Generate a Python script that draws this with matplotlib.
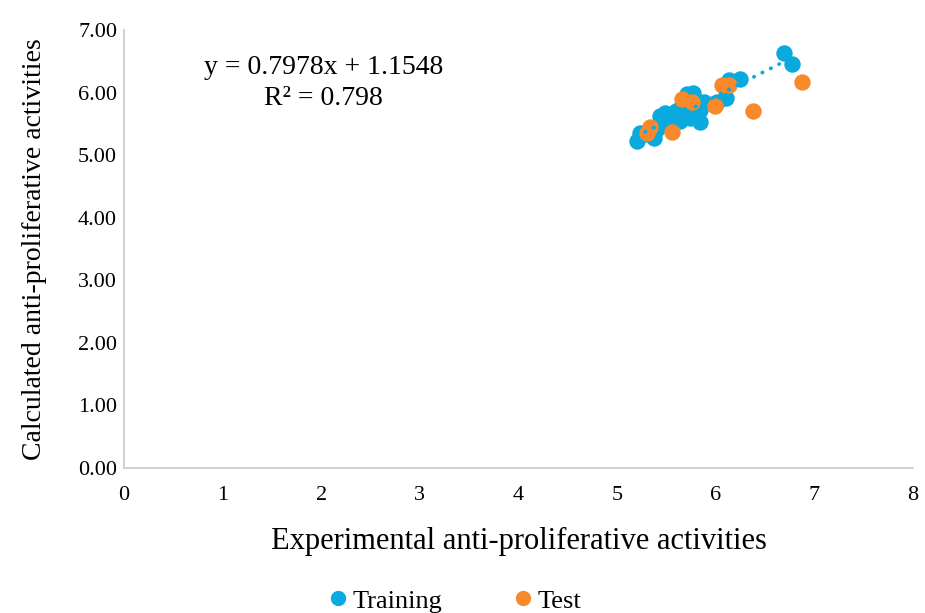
import numpy as np
import matplotlib
matplotlib.use('Agg')
import matplotlib.pyplot as plt
from matplotlib.lines import Line2D

plt.rcParams['font.family'] = ['Liberation Serif', 'DejaVu Serif']

# Training set (experimental, calculated)
train_x = [5.20, 5.23, 5.37, 5.40, 5.44, 5.49, 5.55, 5.60, 5.64, 5.71, 5.77, 5.74,
           5.84, 5.84, 5.88, 5.79, 6.10, 6.13, 6.25, 6.69, 6.77, 6.01, 5.52, 5.66,
           5.46, 5.58, 5.68, 5.30]
train_y = [5.22, 5.35, 5.27, 5.42, 5.62, 5.68, 5.60, 5.70, 5.55, 5.98, 6.00, 5.60,
           5.53, 5.72, 5.85, 5.82, 5.92, 6.20, 6.22, 6.64, 6.45, 5.85, 5.50, 5.80,
           5.52, 5.65, 5.75, 5.33]

# Test set
test_x = [5.30, 5.33, 5.56, 5.66, 5.76, 5.99, 6.06, 6.13, 6.38, 6.87]
test_y = [5.35, 5.45, 5.37, 5.90, 5.85, 5.78, 6.12, 6.12, 5.70, 6.17]

slope, intercept = 0.7978, 1.1548

blue = '#0BAADE'
orange = '#F8892A'

fig = plt.figure(figsize=(9.25, 6.13), dpi=100)
ax = fig.add_axes([0.134, 0.2366, 0.853, 0.7145])

ax.scatter(train_x, train_y, s=140, color=blue, zorder=3, linewidths=0)
ax.scatter(test_x, test_y, s=140, color=orange, zorder=4, linewidths=0)

xs = np.array([min(train_x), max(train_x)])
ax.plot(xs, slope * xs + intercept, color=blue, linestyle=(0, (0.1, 2.4)),
        linewidth=2.7, dash_capstyle='round', zorder=5)

ax.set_xlim(0, 8)
ax.set_ylim(0, 7)
ax.set_xticks(range(0, 9))
ax.set_yticks(range(0, 8))
ax.set_yticklabels(['%.2f' % v for v in range(0, 8)])
ax.tick_params(axis='x', length=0, labelsize=16, pad=13)
ax.tick_params(axis='y', length=0, labelsize=16, pad=5)
for s in ['top', 'right']:
    ax.spines[s].set_visible(False)
for s in ['left', 'bottom']:
    ax.spines[s].set_color('#C8C8C8')
    ax.spines[s].set_linewidth(1.2)

ax.set_xlabel('Experimental anti-proliferative activities', fontsize=22, labelpad=16)
ax.set_ylabel('Calculated anti-proliferative activities', fontsize=20, labelpad=22)

ax.text(2.02, 6.15, 'y = 0.7978x + 1.1548\nR² = 0.798', ha='center', va='center',
        fontsize=20, linespacing=1.3)

handles = [Line2D([], [], marker='o', linestyle='', color=blue, markersize=10),
           Line2D([], [], marker='o', linestyle='', color=orange, markersize=10)]
fig.legend(handles, ['Training', 'Test'], loc='lower center',
           bbox_to_anchor=(0.483, -0.038), ncol=2, frameon=False, fontsize=19,
           handletextpad=-0.45, columnspacing=2.05)

fig.savefig('out.png', dpi=100)
